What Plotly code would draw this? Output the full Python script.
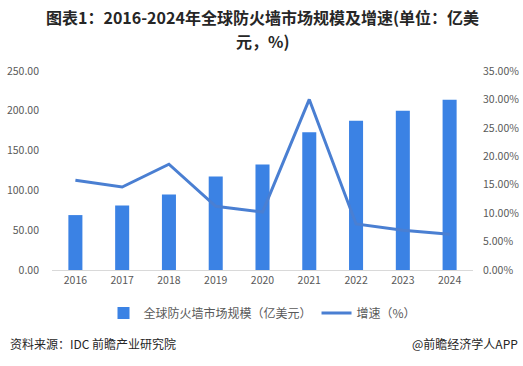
import plotly.graph_objects as go

years = ["2016", "2017", "2018", "2019", "2020", "2021", "2022", "2023", "2024"]
market_size = [69, 81, 95, 117.5, 132.5, 173, 187.5, 200, 214]
growth = [15.8, 14.6, 18.6, 11.2, 10.2, 30.0, 8.1, 7.0, 6.3]

bar_name = "全球防火墙市场规模（亿美元）"
line_name = "增速（%）"
title_line1 = "图表1：2016-2024年全球防火墙市场规模及增速(单位：亿美"
title_line2 = "元，%)"
source_left = "资料来源：IDC 前瞻产业研究院"
source_right = "@前瞻经济学人APP"

font_family = "Noto Sans CJK SC, Noto Sans, sans-serif"
tick_color = "#595959"
title_font = dict(family=font_family, size=16, color="#262626", weight="bold")

fig = go.Figure()
fig.add_trace(go.Bar(
    x=years, y=market_size, name=bar_name,
    marker=dict(color="#3B82E4", line=dict(width=0)),
    yaxis="y",
))
fig.add_trace(go.Scatter(
    x=years, y=growth, name=line_name, mode="lines",
    line=dict(color="#4A7FD2", width=3),
    yaxis="y2",
))

fig.update_layout(
    width=523, height=366,
    margin=dict(l=52, r=50, t=71, b=96),
    paper_bgcolor="white", plot_bgcolor="white",
    font=dict(family=font_family, size=11, color=tick_color),
    bargap=0.7,
    showlegend=True,
    xaxis=dict(
        type="category", showgrid=False, showline=True, linecolor="#D9D9D9",
        linewidth=1, ticks="", automargin=False,
        tickfont=dict(size=10.5, color=tick_color),
    ),
    yaxis=dict(
        range=[0, 250], dtick=50, tickformat=".2f", showgrid=False,
        zeroline=False, showline=False, ticks="", ticklabelstandoff=12,
        automargin=False, tickfont=dict(size=10.5, color=tick_color),
    ),
    yaxis2=dict(
        range=[0, 35], dtick=5, tickformat=".2f", ticksuffix="%",
        overlaying="y", side="right", showgrid=False, zeroline=False,
        showline=False, ticks="", ticklabelstandoff=9, automargin=False,
        tickfont=dict(size=10.5, color=tick_color),
    ),
    legend=dict(
        orientation="h", x=0.5, xanchor="center", y=-0.216, yanchor="middle",
        font=dict(size=12, color=tick_color), itemwidth=30,
        traceorder="normal",
    ),
    annotations=[
        dict(text=title_line1, xref="paper", yref="paper",
             x=0.5, y=1.269, xanchor="center", yanchor="middle",
             showarrow=False, font=title_font),
        dict(text=title_line2, xref="paper", yref="paper",
             x=0.5, y=1.153, xanchor="center", yanchor="middle",
             showarrow=False, font=title_font),
        dict(text=source_left, xref="paper", yref="paper",
             x=-0.1045, y=-0.367, xanchor="left", yanchor="middle",
             showarrow=False, font=dict(size=12, color="#262626")),
        dict(text=source_right, xref="paper", yref="paper",
             x=1.112, y=-0.367, xanchor="right", yanchor="middle",
             showarrow=False, font=dict(size=12, color="#262626")),
    ],
)

fig.write_html("out.html", config={"displayModeBar": False},
               post_script="document.body.style.margin='0';")
